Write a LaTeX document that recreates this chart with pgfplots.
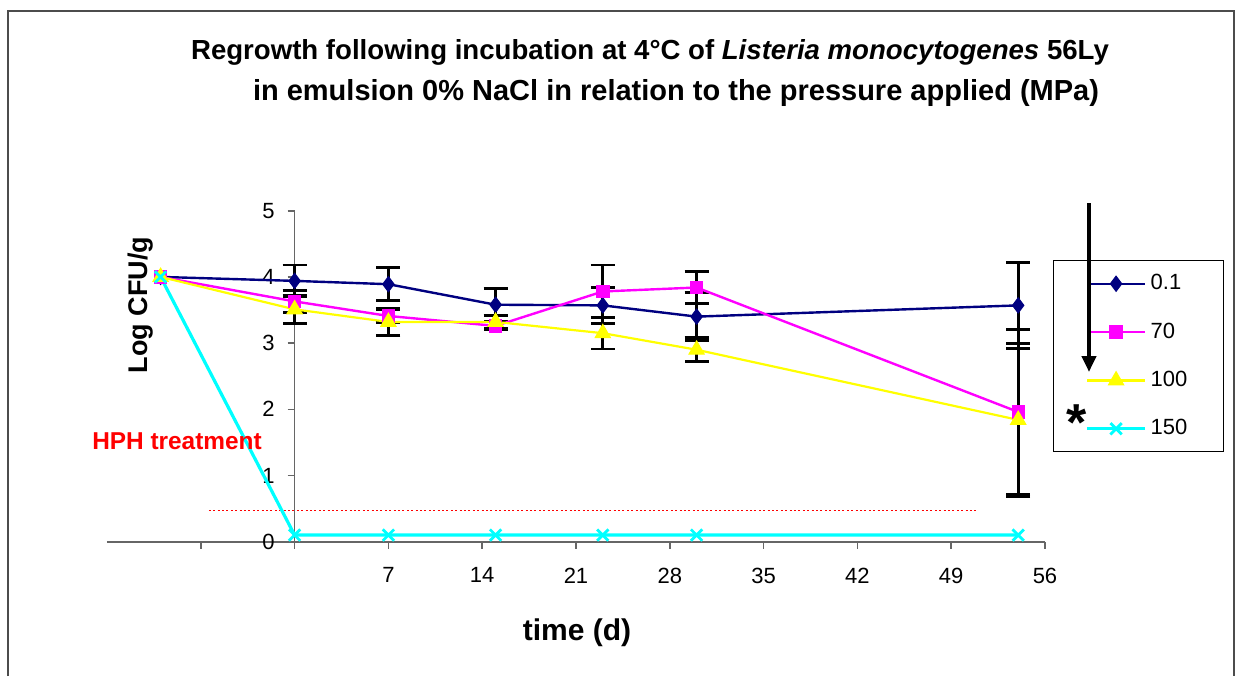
\documentclass[border=0pt]{standalone}
\usepackage{fontspec}
\setmainfont{Liberation Sans}
\usepackage{pgfplots}
\pgfplotsset{compat=1.18}
\usetikzlibrary{arrows.meta}
\definecolor{navy}{RGB}{0,0,128}
\definecolor{mag}{RGB}{255,0,255}
\definecolor{yel}{RGB}{255,255,0}
\definecolor{cyn}{RGB}{0,255,255}
\begin{document}
\begin{tikzpicture}
\useasboundingbox (0,0) rectangle (619.5pt,-338pt);
\begin{axis}[
  at={(53.5pt,-270.85pt)}, anchor=south west,
  scale only axis, width=469pt, height=165.5pt,
  xmin=-14, xmax=56, ymin=0, ymax=5,
  axis x line*=bottom, axis y line*=middle,
  hide obscured x ticks=false, hide obscured y ticks=false,
  axis line style={black!60, line width=0.8pt},
  tick style={black!60, line width=0.8pt},
  tick align=outside, major tick length=3.5pt,
  xtick={-7,0,...,56},
  xticklabels={,,7,14,21,28,35,42,49,56},
  ytick={0,1,2,3,4,5},
  /pgf/number format/assume math mode=true,
  tick label style={font=\fontsize{11}{13}\selectfont},
  xticklabel style={yshift=-6pt},
  yticklabel style={xshift=-3pt},
  clip=false,
  legend style={at={(1.0085,0.851)}, anchor=north west, draw=black, line width=0.5pt,
    font=\fontsize{11}{13}\selectfont, inner xsep=16pt, inner ysep=5pt, row sep=11pt,
    nodes={inner sep=2pt}},
  legend cell align=left,
  legend image code/.code={\draw[mark repeat=2,mark phase=2] plot coordinates {(0pt,0pt) (14.5pt,0pt) (29pt,0pt)};},
  error bars/error bar style={black, line width=1.4pt},
  error bars/error mark options={black, rotate=90, mark size=6pt, line width=1.4pt},
]
% detection limit line
\addplot[red, line width=0.8pt, dash pattern=on 1pt off 1.2pt, forget plot] coordinates {(-6.4,0.47) (51,0.47)};

% 0.1 MPa
\addplot[draw=none, forget plot, error bars/.cd, y dir=both, y explicit] table[x=x, y=y, y error=e] {
x y e
0 3.94 0.24
7 3.89 0.25
15 3.58 0.25
23 3.57 0.27
30 3.40 0.36
54 3.57 0.65
};
% 70 MPa
\addplot[draw=none, forget plot, error bars/.cd, y dir=both, y explicit] table[x=x, y=y, y error=e] {
x y e
0 3.63 0.17
7 3.41 0.10
15 3.26 0.06
23 3.78 0.40
30 3.84 0.24
54 1.96 1.25
};
% 100 MPa
\addplot[draw=none, forget plot, error bars/.cd, y dir=both, y explicit] table[x=x, y=y, y error=e] {
x y e
0 3.51 0.21
7 3.32 0.20
15 3.32 0.10
23 3.15 0.24
30 2.90 0.18
54 1.84 1.16
};

\addplot[navy, line width=1.2pt, mark=diamond*, mark size=3.8pt, mark options={fill=navy, draw=navy, line width=0.5pt}] table {
x y
-10 4.00
0 3.94
7 3.89
15 3.58
23 3.57
30 3.40
54 3.57
};
\addplot[mag, line width=1.2pt, mark=square*, mark size=3.1pt, mark options={fill=mag, draw=mag, line width=0.5pt}] table {
x y
-10 4.00
0 3.63
7 3.41
15 3.26
23 3.78
30 3.84
54 1.96
};
\addplot[yel, line width=1.1pt, mark=triangle*, mark size=4.4pt, mark options={fill=yel, draw=yel, line width=0.5pt}] table {
x y
-10 4.00
0 3.51
7 3.32
15 3.32
23 3.15
30 2.90
54 1.84
};
\addplot[cyn, line width=1.6pt, mark=x, mark size=4pt, mark options={draw=cyn, line width=1.4pt}] table {
x y
-10 4.00
0 0.10
7 0.10
15 0.10
23 0.10
30 0.10
54 0.10
};
\legend{0.1,70,100,150}
\end{axis}
\begin{scope}[x=0.5pt,y=-0.5pt]
\draw[black!70, line width=1pt] (8,676) -- (8,11) -- (1234,11) -- (1234,676);
\node[font=\fontsize{13.8}{16}\selectfont\bfseries, anchor=base] at (650,59) {Regrowth following incubation at 4°C of \textit{Listeria monocytogenes} 56Ly};
\node[font=\fontsize{14.5}{16}\selectfont\bfseries, anchor=base] at (676,100) {in emulsion 0\% NaCl in relation to the pressure applied (MPa)};
\node[rotate=90, font=\fontsize{13.5}{15}\selectfont\bfseries] at (141,305) {Log CFU/g};
\node[red, font=\fontsize{12.2}{14}\selectfont\bfseries] at (177,441) {HPH treatment};
\node[font=\fontsize{15}{17}\selectfont\bfseries] at (577,633) {time (d)};
\draw[black, line width=2pt, -{Triangle[width=7pt,length=8pt]}] (1089,203) -- (1089,372);
\node[font=\fontsize{26}{26}\selectfont\bfseries] at (1077,423) {*};
\end{scope}
\end{tikzpicture}
\end{document}
